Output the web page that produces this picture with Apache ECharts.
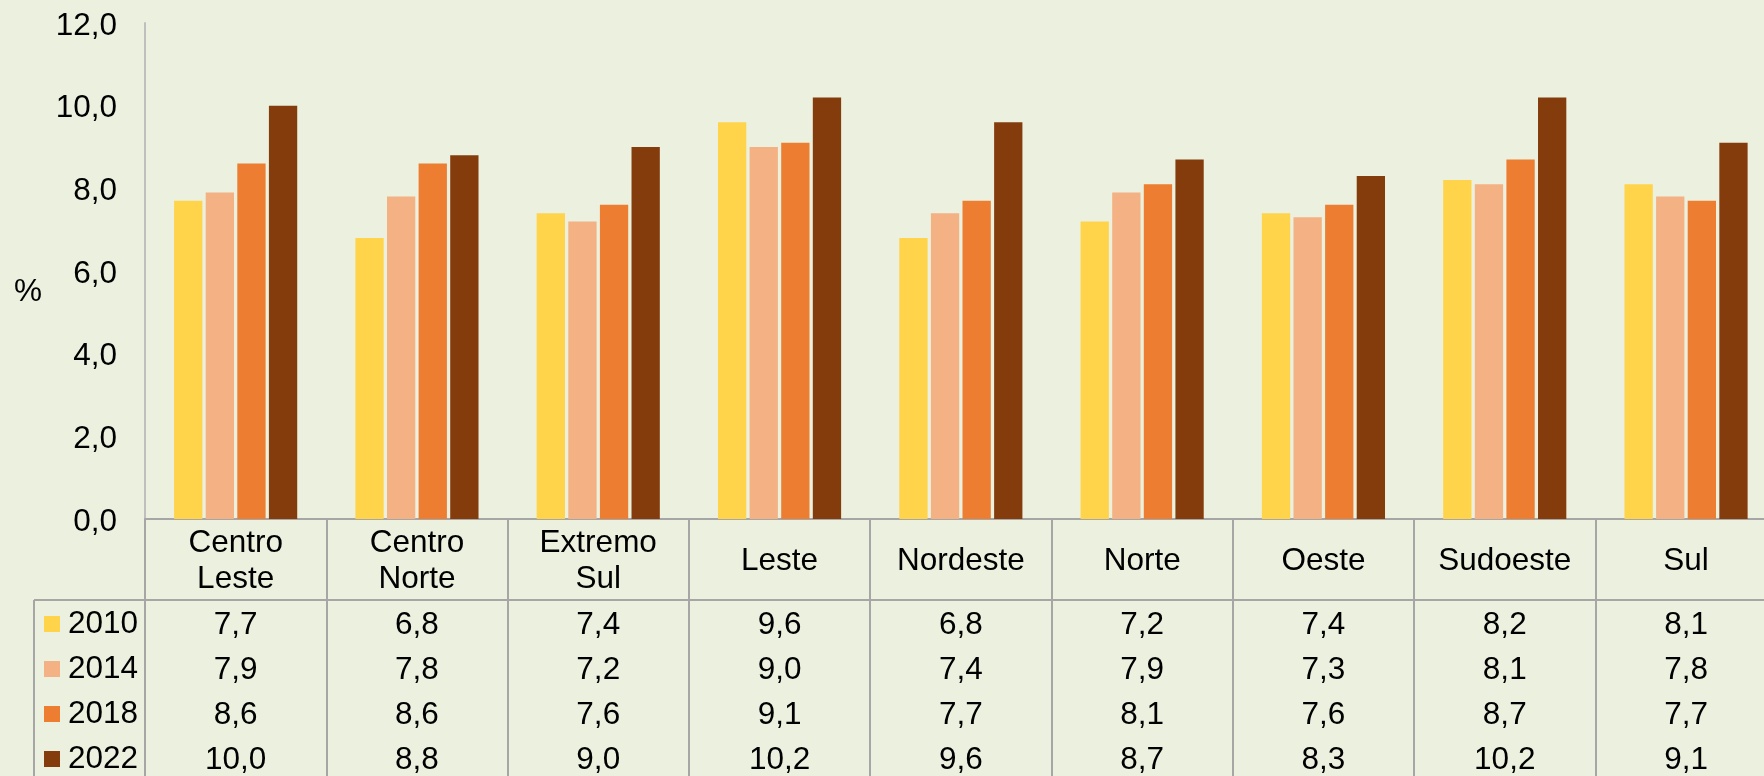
<!DOCTYPE html>
<html>
<head>
<meta charset="utf-8">
<script src="https://cdn.jsdelivr.net/npm/echarts@6/dist/echarts.min.js"></script>
<style>
html,body{margin:0;padding:0;background:#EBF1DE;}
#chart{width:1764px;height:776px;}
</style>
</head>
<body>
<div id="chart"></div>
<script>
const categories = ['Centro\nLeste', 'Centro\nNorte', 'Extremo\nSul', 'Leste', 'Nordeste', 'Norte', 'Oeste', 'Sudoeste', 'Sul'];
const years = ['2010', '2014', '2018', '2022'];
const values2010 = [7.7, 6.8, 7.4, 9.6, 6.8, 7.2, 7.4, 8.2, 8.1];
const values2014 = [7.9, 7.8, 7.2, 9.0, 7.4, 7.9, 7.3, 8.1, 7.8];
const values2018 = [8.6, 8.6, 7.6, 9.1, 7.7, 8.1, 7.6, 8.7, 7.7];
const values2022 = [10.0, 8.8, 9.0, 10.2, 9.6, 8.7, 8.3, 10.2, 9.1];
const yTicks = [0, 2, 4, 6, 8, 10, 12];

const seriesValues = [values2010, values2014, values2018, values2022];
const colors = ['#FFD34A', '#F4B183', '#ED7D31', '#843C0C'];
const FONT = "'Liberation Sans', Arial, sans-serif";
const FS = 31.5;
const fmt = v => v.toFixed(1).replace('.', ',');

const chart = echarts.init(document.getElementById('chart'), null, {renderer: 'canvas'});

const gridLeft = 145, gridTop = 23, colW = 181.3, gridH = 496;
const grid = {left: gridLeft, top: gridTop, width: colW * categories.length, height: gridH, containLabel: false, outerBoundsMode: 'none'};

const xAxes = [{
  type: 'category',
  data: categories,
  gridIndex: 0,
  position: 'bottom',
  axisLine: {show: true, lineStyle: {color: '#A6A6A6', width: 2}},
  axisTick: {show: true, interval: 0, length: 260, lineStyle: {color: '#A6A6A6', width: 2}},
  axisLabel: {interval: 0, margin: 42.5, verticalAlign: 'middle', lineHeight: 36.5, fontSize: FS, color: '#000', fontFamily: FONT},
  splitLine: {show: false}
}];
const rowOffsets = [106, 151, 196, 241];
seriesValues.forEach((vals, k) => {
  xAxes.push({
    type: 'category',
    data: categories,
    gridIndex: 0,
    position: 'bottom',
    offset: rowOffsets[k],
    axisLine: {show: false},
    axisTick: {show: false},
    splitLine: {show: false},
    axisLabel: {
      interval: 0, margin: 0, verticalAlign: 'middle', fontSize: FS, color: '#000', fontFamily: FONT,
      formatter: (value, idx) => fmt(vals[idx])
    }
  });
});

const option = {
  backgroundColor: '#EBF1DE',
  animation: false,
  color: colors,
  grid: grid,
  xAxis: xAxes,
  yAxis: {
    type: 'value',
    min: yTicks[0],
    max: yTicks[yTicks.length - 1],
    interval: 2,
    axisLine: {show: true, lineStyle: {color: '#BFBFBF', width: 2}},
    axisTick: {show: false},
    splitLine: {show: false},
    axisLabel: {margin: 28, fontSize: FS, color: '#000', fontFamily: FONT, verticalAlign: 'top', lineHeight: 32, padding: [-13, 0, 0, 0], formatter: v => fmt(v)}
  },
  legend: {
    orient: 'vertical',
    left: 44,
    top: 608,
    height: 300,
    padding: 0,
    itemWidth: 16,
    itemHeight: 16,
    itemGap: 13,
    icon: 'rect',
    data: years,
    textStyle: {fontSize: FS, color: '#000', fontFamily: FONT, lineHeight: 30, padding: [2, 0, 0, 3]},
  },
  graphic: [
    {type: 'line', shape: {x1: 34, y1: 600, x2: 1764, y2: 600}, style: {stroke: '#A6A6A6', lineWidth: 2}, silent: true},
    {type: 'line', shape: {x1: 34, y1: 600, x2: 34, y2: 776}, style: {stroke: '#A6A6A6', lineWidth: 2}, silent: true},
    {type: 'text', left: 14, top: 276, style: {text: '%', fontSize: FS, fill: '#000', fontFamily: FONT}, silent: true}
  ],
  series: seriesValues.map((vals, k) => ({
    name: years[k],
    type: 'bar',
    xAxisIndex: 0,
    data: vals,
    barWidth: 28.3,
    barGap: '11.7%',
    itemStyle: {color: colors[k]}
  }))
};
chart.setOption(option);
</script>
</body>
</html>
